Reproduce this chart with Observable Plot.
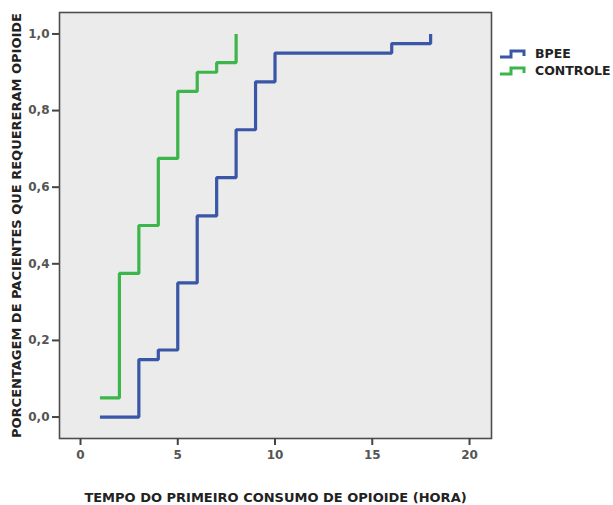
<!DOCTYPE html>
<html>
<head>
<meta charset="utf-8">
<script src="https://cdn.jsdelivr.net/npm/d3@7"></script>
<script src="https://cdn.jsdelivr.net/npm/@observablehq/plot@0.6"></script>
<style>
  html, body { margin: 0; padding: 0; background: #fff; }
  #wrap { position: relative; width: 613px; height: 505px; font-family: "DejaVu Sans", sans-serif; }
  #legend { position: absolute; left: 499px; top: 45px; font: bold 12.5px "DejaVu Sans", sans-serif; color: #222; }
  #legend .row { display: flex; align-items: center; height: 17px; }
  #legend svg { margin-right: 8px; }
</style>
</head>
<body>
<div id="wrap"></div>
<script>
// Data
const seriesNames = ["BPEE", "CONTROLE"];
const seriesColors = ["#3a56a6", "#3cb54a"];

const bpeeTime  = [1, 3, 4, 5, 6, 7, 8, 9, 10, 16, 18];
const bpeeValue = [0.0, 0.15, 0.175, 0.35, 0.525, 0.625, 0.75, 0.875, 0.95, 0.975, 1.0];

const controleTime  = [1, 2, 3, 4, 5, 6, 7, 8];
const controleValue = [0.05, 0.375, 0.5, 0.675, 0.85, 0.9, 0.925, 1.0];

const xTicks = [0, 5, 10, 15, 20];
const yTicks = [0, 0.2, 0.4, 0.6, 0.8, 1.0];

const xLabel = "TEMPO DO PRIMEIRO CONSUMO DE OPIOIDE (HORA)";
const yLabel = "PORCENTAGEM DE PACIENTES QUE REQUERERAM OPIOIDE";

const rows = [
  ...bpeeTime.map((t, i) => ({series: seriesNames[0], t, v: bpeeValue[i]})),
  ...controleTime.map((t, i) => ({series: seriesNames[1], t, v: controleValue[i]}))
];

const chart = Plot.plot({
  width: 613,
  height: 505,
  marginLeft: 59,
  marginTop: 12,
  marginRight: 122,
  marginBottom: 67,
  style: {fontFamily: "DejaVu Sans, sans-serif", fontSize: "12px", background: "#fff"},
  x: {domain: [-1.08, 21.13], ticks: xTicks, label: null},
  y: {domain: [-0.056, 1.056], ticks: yTicks, label: null},
  color: {domain: seriesNames, range: seriesColors},
  marks: [
    Plot.frame({fill: "#ebebeb", stroke: null}),
    Plot.line(rows, {x: "t", y: "v", z: "series", stroke: "series", strokeWidth: 3.2, curve: "step-after", strokeLinejoin: "miter", strokeLinecap: "butt"}),
    Plot.frame({stroke: "#4d4d4d", strokeWidth: 1.6}),
    Plot.axisX({ticks: xTicks, tickSize: 7, tickPadding: 5, stroke: "#444", strokeWidth: 2, fill: "#555", fontWeight: "bold", fontSize: 12, tickFormat: d => String(d), label: null}),
    Plot.axisY({ticks: yTicks, tickSize: 7, tickPadding: 3, stroke: "#444", strokeWidth: 2, fill: "#555", fontWeight: "bold", fontSize: 12, tickFormat: d => d3.format(".1f")(d).replace(".", ","), label: null}),
    Plot.text([xLabel], {frameAnchor: "bottom", dy: 59, text: d => d, textAnchor: "middle", fontWeight: "bold", fontSize: 13, fill: "#222", lineAnchor: "middle"}),
    Plot.text([yLabel], {frameAnchor: "left", dx: -43, rotate: -90, text: d => d, textAnchor: "middle", fontWeight: "bold", fontSize: 13, fill: "#222", lineAnchor: "middle"})
  ]
});

const wrap = document.getElementById("wrap");
wrap.appendChild(chart);

// Legend (HTML overlay in the right margin)
const legend = document.createElement("div");
legend.id = "legend";
seriesNames.forEach((name, i) => {
  const row = document.createElement("div");
  row.className = "row";
  row.innerHTML = `<svg width="28" height="12"><path d="M1,9 H12 V3 H25 V8" fill="none" stroke="${seriesColors[i]}" stroke-width="3"/></svg><span>${name}</span>`;
  legend.appendChild(row);
});
wrap.appendChild(legend);
</script>
</body>
</html>
